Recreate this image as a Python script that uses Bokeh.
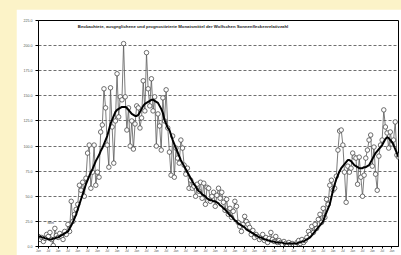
from bokeh.plotting import figure
from bokeh.models import Label, FixedTicker, NumeralTickFormatter, ColumnDataSource
from bokeh.embed import file_html
from bokeh.resources import INLINE

# months since Jan 1996
observed = [
    10, 7, 9, 5, 8, 12, 10, 14, 7, 1, 18, 11, 9, 13, 10, 7, 15, 12, 22, 15,
    45, 25, 32, 37, 42, 61, 56, 64, 50, 68, 93, 101, 58, 74, 101, 61, 74, 69, 114,
    121, 157, 138, 101, 79, 158, 119, 83, 125, 172, 129, 149, 146, 202, 149, 116,
    138, 100, 125, 97, 122, 140, 138,
    118, 128, 165, 135, 193, 157, 140, 167, 135, 149, 100, 132, 120, 96, 148, 125,
    156, 118, 94, 71, 110, 69, 98, 88, 83, 106, 98, 81, 72, 78, 58, 66, 58, 60,
    50, 62, 55, 64, 48, 63, 42, 59, 58, 45, 50, 54, 40, 51, 58, 48, 54, 44, 36,
    47, 32, 38, 29, 35, 45, 40, 24, 20, 15, 22, 30, 25, 22, 19, 12, 16, 9, 12,
    10, 7, 9, 12, 6, 9, 4,
    8, 14, 7, 5, 10, 4, 6, 4, 2, 5, 3, 1, 4, 2, 3, 1, 2, 4, 6, 3, 7, 4, 6, 9,
    15, 12, 20, 14, 22, 18, 27, 32, 24, 38, 29, 47, 42, 61, 66, 56, 58, 70, 96,
    115, 116, 101, 74, 44, 80, 74, 78, 93, 89, 88, 62, 89, 69, 50, 71, 88, 96,
    106, 111, 80, 99, 72, 56, 90, 101, 106, 136, 119, 113, 98, 114, 102, 106,
    124, 91, 89,
]
smoothed = [
    10, 10, 9, 9, 8, 8, 7, 7, 7, 8, 8, 9, 9, 10, 11, 12, 13, 14, 15, 18, 21, 24,
    28, 32, 37, 42, 47, 52, 57, 62, 66, 70, 74, 77, 81, 85, 88, 91, 95, 98,
    102, 106, 110, 116, 122, 126, 130, 134, 136, 137, 138, 139, 139, 139,
    138, 136, 134, 132, 131, 130, 130, 131, 134, 137, 140, 142, 143, 144, 145,
    146, 146, 145, 144, 143, 140, 137, 133, 126, 122, 118, 116, 111, 106,
    102, 98, 94, 90, 86, 83, 80, 77, 74, 71, 68, 65, 62, 60, 57,
    55, 54, 52, 51, 50, 48, 47, 46, 46, 45, 45, 44, 43, 41, 40, 38, 37, 35, 33,
    31, 30, 28, 26, 25, 23, 22, 21, 20, 19, 17, 16, 15, 14, 13, 12, 11, 10,
    9, 9, 8, 7, 7, 6, 6, 5, 5, 5, 4, 4, 4, 4, 4, 3, 3, 3, 3, 3, 3, 3,
    3, 3, 4, 4, 5, 5, 6, 7, 8, 9, 11, 13, 15, 17, 19, 21, 23, 25,
    30, 34, 38, 42, 49, 56, 62, 67, 71, 75, 78, 80, 82, 84, 86, 86, 85, 83, 81,
    80, 79, 78, 78, 78, 79, 79, 80, 81, 84, 87, 90, 93, 95, 97, 99, 101,
    104, 107, 109, 108, 106, 104, 101, 97, 93, 89,
]
months = list(range(len(observed)))
y_ticks = [0, 25, 50, 75, 100, 125, 150, 175, 200, 225]
x_ticks = list(range(0, 221, 6))
x_tick_labels = ["Jan", "Jul"]
title_text = "Beobachtete, ausgeglichene und prognostizierte Monatsmittel der Wolfschen Sonnenfleckenrelativzahl"
min_label = "Min"

src = ColumnDataSource(dict(m=months, obs=observed, sm=smoothed))

p = figure(width=385, height=246, x_range=(0, 220), y_range=(0, 225),
           output_backend="svg", toolbar_location=None,
           min_border_left=22, min_border_right=3, min_border_top=11, min_border_bottom=8)
p.background_fill_color = "white"
p.border_fill_color = "white"
p.outline_line_color = "black"
p.outline_line_width = 1

p.xgrid.visible = False
p.ygrid.ticker = FixedTicker(ticks=y_ticks[1:-1])
p.ygrid.grid_line_color = "#6e6e6e"
p.ygrid.grid_line_dash = "3 2"
p.ygrid.grid_line_width = 1

p.yaxis.ticker = FixedTicker(ticks=y_ticks)
p.yaxis.formatter = NumeralTickFormatter(format="0.0")
p.yaxis.major_label_text_font = "Liberation Sans"
p.yaxis.major_label_text_font_size = "3.6px"
p.yaxis.major_label_text_color = "#555555"
p.yaxis.major_tick_out = 3
p.yaxis.major_tick_in = 0
p.yaxis.minor_tick_line_color = None
p.yaxis.major_label_standoff = 3
p.yaxis.axis_line_color = "black"

p.xaxis.ticker = FixedTicker(ticks=x_ticks)
p.xaxis.major_label_overrides = {t: x_tick_labels[(t // 6) % 2] for t in x_ticks}
p.xaxis.major_label_text_font = "Liberation Sans"
p.xaxis.major_label_text_font_size = "3px"
p.xaxis.major_label_text_color = "#555555"
p.xaxis.major_tick_out = 2
p.xaxis.major_tick_in = 0
p.xaxis.minor_tick_line_color = None
p.xaxis.major_label_standoff = 1
p.xaxis.axis_line_color = "black"

p.line("m", "obs", source=src, line_color="#5a5a5a", line_width=0.8)
p.scatter("m", "obs", source=src, size=4.5, fill_color="white",
          line_color="#4a4a4a", line_width=0.8)
p.line("m", "sm", source=src, line_color="black", line_width=2)

p.add_layout(Label(x=24, y=219, text=title_text, text_font="Liberation Sans",
                   text_font_style="bold", text_font_size="4.3px", text_color="#222222",
                   text_baseline="middle", text_align="left"))
p.add_layout(Label(x=5.5, y=24, text=min_label, text_font="Liberation Sans",
                   text_font_size="4px", text_color="#444444",
                   text_baseline="middle", text_align="left"))

html = file_html(p, INLINE)
html = html.replace("</head>",
                    "<style>html,body{background:#fcf3c8;overflow:hidden}"
                    "body{margin:9px 0 0 16px !important}</style></head>")
open("out.html", "w").write(html)
